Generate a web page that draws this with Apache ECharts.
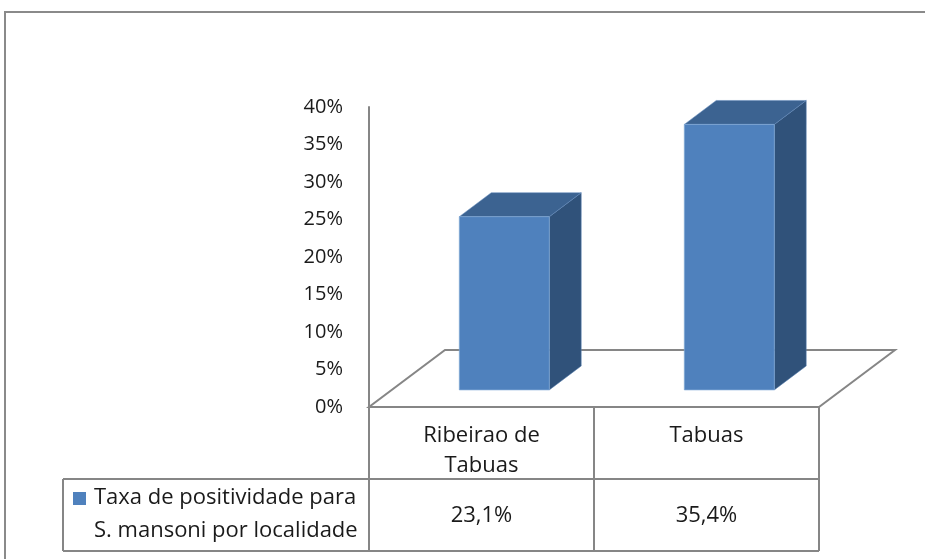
<!DOCTYPE html>
<html><head><meta charset="utf-8">
<script src="https://cdn.jsdelivr.net/npm/echarts@6/dist/echarts.min.js"></script>
<style>html,body{margin:0;padding:0;background:#fff}#c{width:925px;height:559px}</style>
</head><body><div id="c"></div>
<script>
// ---- data ----
const categories = ['Ribeirao de\nTabuas', 'Tabuas'];
const values = [23.1, 35.4];
const valueLabels = ['23,1%', '35,4%'];
const yMin = 0, yMax = 40, yStep = 5;
const seriesName = 'Taxa de positividade para\nS. mansoni por localidade';

// ---- style / layout constants ----
const FONT = '"Open Sans", "DejaVu Sans", sans-serif';
const FRONT = '#4F81BD', SIDE = '#30527A', TOP = '#3C6391';
const LINE = '#868686';
const DX = 76, DY = 57;          // floor depth offset
const FRONT_F = 0.3, DEPTH_F = 0.42, HALF_W = 0.2;
const ROW_H = 72;

const chart = echarts.init(document.getElementById('c'), null, {renderer: 'canvas'});

function floorItem(params, api) {
  const band = api.size([1, 0])[0];
  const a = api.coord([0, 0]);
  const b = api.coord([categories.length - 1, 0]);
  const l = a[0] - band / 2, r = b[0] + band / 2, y = a[1];
  return {
    type: 'polygon', z2: 0,
    shape: {points: [[l, y], [r, y], [r + DX, y - DY], [l + DX, y - DY]]},
    style: {fill: 'none', stroke: LINE, lineWidth: 2}
  };
}

function barItem(params, api) {
  const cat = api.value(0), v = api.value(1);
  const band = api.size([1, 0])[0];
  const base = api.coord([cat, 0]);
  const top = api.coord([cat, v]);
  const fx = FRONT_F * DX, fy = FRONT_F * DY;
  const bx = DEPTH_F * DX, by = DEPTH_F * DY;
  const x0 = base[0] + fx - band * HALF_W, x1 = base[0] + fx + band * HALF_W;
  const yb = base[1] - fy, yt = top[1] - fy;
  return {
    type: 'group',
    children: [
      {type: 'polygon', shape: {points: [[x1, yt], [x1 + bx, yt - by], [x1 + bx, yb - by], [x1, yb]]},
       style: {fill: SIDE, stroke: 'rgba(90,130,180,0.5)', lineWidth: 1}},
      {type: 'polygon', shape: {points: [[x0, yt], [x1, yt], [x1 + bx, yt - by], [x0 + bx, yt - by]]},
       style: {fill: TOP, stroke: 'rgba(100,140,190,0.5)', lineWidth: 1}},
      {type: 'rect', shape: {x: x0, y: yt, width: x1 - x0, height: yb - yt},
       style: {fill: FRONT, stroke: 'rgba(130,170,215,0.7)', lineWidth: 1}}
    ]
  };
}

function tableItem(params, api) {
  const cat = api.value(0);
  const band = api.size([1, 0])[0];
  const c = api.coord([cat, 0]);
  const l = c[0] - band / 2, r = c[0] + band / 2, y0 = c[1];
  const y1 = y0 + ROW_H, y2 = y0 + 2 * ROW_H;
  const ls = {stroke: LINE, lineWidth: 2};
  const children = [
    {type: 'line', shape: {x1: r, y1: y0, x2: r, y2: y2}, style: ls},
    {type: 'line', shape: {x1: l, y1: y1, x2: r, y2: y1}, style: ls},
    {type: 'line', shape: {x1: l, y1: y2, x2: r, y2: y2}, style: ls},
    {type: 'text', style: {text: valueLabels[cat], x: c[0], y: (y1 + y2) / 2 + 1,
      align: 'center', verticalAlign: 'middle', fill: '#1a1a1a', fontSize: 22, fontFamily: FONT}}
  ];
  if (cat === 0) {
    const lx = 63;
    children.push(
      {type: 'line', shape: {x1: l, y1: y0, x2: l, y2: y2}, style: ls},
      {type: 'line', shape: {x1: lx, y1: y1, x2: l, y2: y1}, style: ls},
      {type: 'line', shape: {x1: lx, y1: y2, x2: l, y2: y2}, style: ls},
      {type: 'line', shape: {x1: lx, y1: y1, x2: lx, y2: y2}, style: ls},
      {type: 'rect', shape: {x: lx + 10, y: y1 + 13, width: 13, height: 13}, style: {fill: FRONT}},
      {type: 'text', style: {text: seriesName, x: lx + 31, y: y1 + 2, align: 'left', verticalAlign: 'top',
        lineHeight: 33, fill: '#1a1a1a', fontSize: 22, fontFamily: FONT}}
    );
  }
  return {type: 'group', children};
}

const catIdx = categories.map((_, i) => i);

chart.setOption({
  animation: false,
  backgroundColor: '#fff',
  grid: {left: 369, right: 106, top: 107, bottom: 152, containLabel: false, outerBoundsMode: 'none'},
  xAxis: {
    type: 'category', data: categories,
    axisLine: {show: false}, axisTick: {show: false}, splitLine: {show: false},
    axisLabel: {margin: 14, color: '#1a1a1a', fontSize: 22, fontFamily: FONT, lineHeight: 30, interval: 0}
  },
  yAxis: {
    type: 'value', min: yMin, max: yMax, interval: yStep,
    axisLine: {show: true, lineStyle: {color: LINE, width: 2}},
    axisTick: {show: false}, splitLine: {show: false},
    axisLabel: {margin: 26, color: '#1a1a1a', fontSize: 20, fontFamily: FONT, formatter: '{value}%'}
  },
  graphic: [{
    type: 'polyline', silent: true,
    shape: {points: [[5, 559], [5, 12], [925, 12]]},
    style: {fill: 'none', stroke: '#8a8a8a', lineWidth: 2}
  }],
  series: [
    {type: 'custom', name: 'floor', data: [[0]], renderItem: floorItem, z: 1, silent: true},
    {type: 'custom', name: seriesName, data: catIdx.map(i => [i, values[i]]), renderItem: barItem, z: 3},
    {type: 'custom', name: 'table', data: catIdx.map(i => [i, values[i]]), renderItem: tableItem, z: 2, silent: true}
  ]
});
</script>
</body></html>
